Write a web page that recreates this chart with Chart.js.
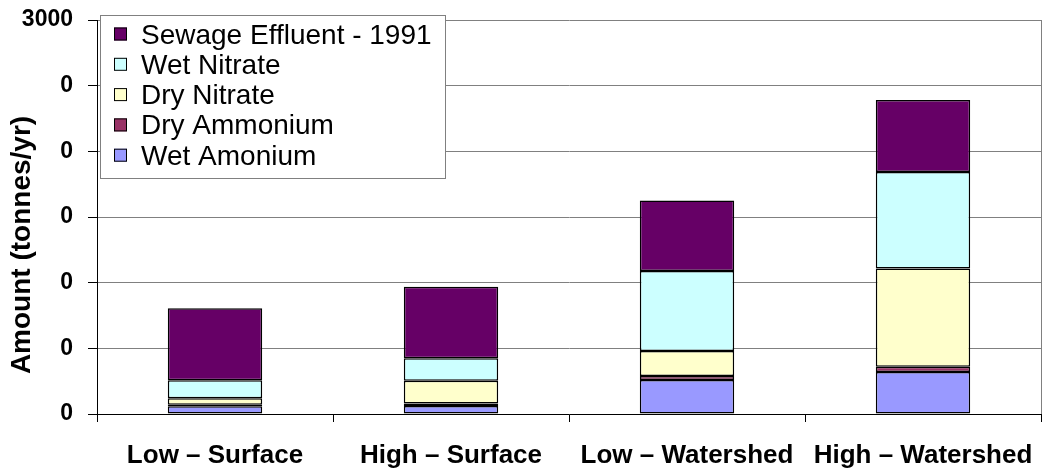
<!DOCTYPE html>
<html>
<head>
<meta charset="utf-8">
<script src="https://cdn.jsdelivr.net/npm/chart.js@4.4.1/dist/chart.umd.min.js"></script>
<style>
  html, body { margin: 0; padding: 0; background: #fff; }
  #wrap { width: 1056px; height: 471px; position: relative; }
</style>
</head>
<body>
<div id="wrap"><canvas id="chart"></canvas></div>
<script>
// Nitrogen loading by scenario, stacked bars
const categories = ['Low \u2013 Surface', 'High \u2013 Surface', 'Low \u2013 Watershed', 'High \u2013 Watershed'];

const wetAmonium = [59, 60, 259, 320];
const dryAmmonium = [12, 20, 30, 40];
const dryNitrate = [49, 174, 191, 747];
const wetNitrate = [137, 170, 609, 736];
const sewage = [548, 545, 536, 548];

// tick labels as printed on the original (bottom to top)
const yTickLabels = ['0', '0', '0', '0', '0', '0', '3000'];

const font = 'Liberation Sans, Arial, sans-serif';

function ds(label, data, color) {
    return {
        label: label,
        data: data,
        backgroundColor: color,
        borderColor: '#000000',
        borderWidth: 1.5,
        borderSkipped: false,
        barPercentage: 0.4,
        categoryPercentage: 1.0
    };
}

const datasets = [
    ds('Wet Amonium', wetAmonium, '#9999FF'),
    ds('Dry Ammonium', dryAmmonium, '#993366'),
    ds('Dry Nitrate', dryNitrate, '#FFFFCC'),
    ds('Wet Nitrate', wetNitrate, '#CCFFFF'),
    ds('Sewage Effluent - 1991', sewage, '#660066')
];

const ctx = document.getElementById('chart').getContext('2d');

new Chart(ctx, {
    type: 'bar',
    data: { labels: categories, datasets: datasets },
    options: {
        responsive: true,
        maintainAspectRatio: false,
        animation: false,
        layout: { padding: { top: 20, right: 15, left: 0, bottom: 0 } },
        plugins: {
            legend: { display: false },
            tooltip: { enabled: false }
        },
        scales: {
            x: {
                stacked: true,
                afterFit: function (scale) { scale.height = 57; },
                grid: {
                    offset: true,
                    drawOnChartArea: false,
                    drawTicks: true,
                    tickLength: 8,
                    tickColor: '#000000'
                },
                border: { display: true, color: '#000000', width: 1 },
                ticks: {
                    color: '#000000',
                    padding: 18,
                    maxRotation: 0,
                    font: { family: font, size: 26, weight: 'bold' }
                }
            },
            y: {
                stacked: true,
                min: 0,
                max: 3000,
                afterFit: function (scale) {
                    scale.width = 97;
                    scale.paddingTop = 0;
                    scale.paddingBottom = 0;
                },
                grid: {
                    color: '#808080',
                    lineWidth: 1,
                    tickLength: 9,
                    tickColor: '#000000'
                },
                border: { display: true, color: '#000000', width: 1 },
                ticks: {
                    stepSize: 500,
                    color: '#000000',
                    padding: 15,
                    font: { family: font, size: 23, weight: 'bold' },
                    callback: function (value, index) { return yTickLabels[index]; }
                }
            }
        }
    },
    plugins: [{
        id: 'extras',
        afterDraw: function (chart) {
            const c = chart.ctx;
            const area = chart.chartArea;

            // right edge of the plot area
            c.save();
            c.strokeStyle = '#808080';
            c.lineWidth = 1;
            c.beginPath();
            c.moveTo(Math.round(area.right) + 0.5, area.top);
            c.lineTo(Math.round(area.right) + 0.5, area.bottom);
            c.stroke();
            c.restore();

            // y axis title
            c.save();
            c.translate(22, 245);
            c.rotate(-Math.PI / 2);
            c.fillStyle = '#000000';
            c.font = 'bold 28px ' + font;
            c.textAlign = 'center';
            c.textBaseline = 'middle';
            c.fillText('Amount (tonnes/yr)', 0, 0);
            c.restore();

            // legend box, top series first
            const bx = 100.5, by = 15.5, bw = 345, bh = 163;
            c.save();
            c.fillStyle = '#ffffff';
            c.fillRect(bx, by, bw, bh);
            c.strokeStyle = '#808080';
            c.lineWidth = 1;
            c.strokeRect(bx, by, bw, bh);

            c.font = '28px ' + font;
            c.textAlign = 'left';
            c.textBaseline = 'alphabetic';
            const items = chart.data.datasets.slice().reverse();
            items.forEach(function (d, i) {
                const cy = 34 + i * 30.3;
                c.fillStyle = d.backgroundColor;
                c.fillRect(114, cy - 6.5, 13, 13);
                c.strokeStyle = '#000000';
                c.strokeRect(114.5, cy - 6, 12, 12);
                c.fillStyle = '#000000';
                c.fillText(d.label, 141, cy + 9.5);
            });
            c.restore();
        }
    }]
});
</script>
</body>
</html>
